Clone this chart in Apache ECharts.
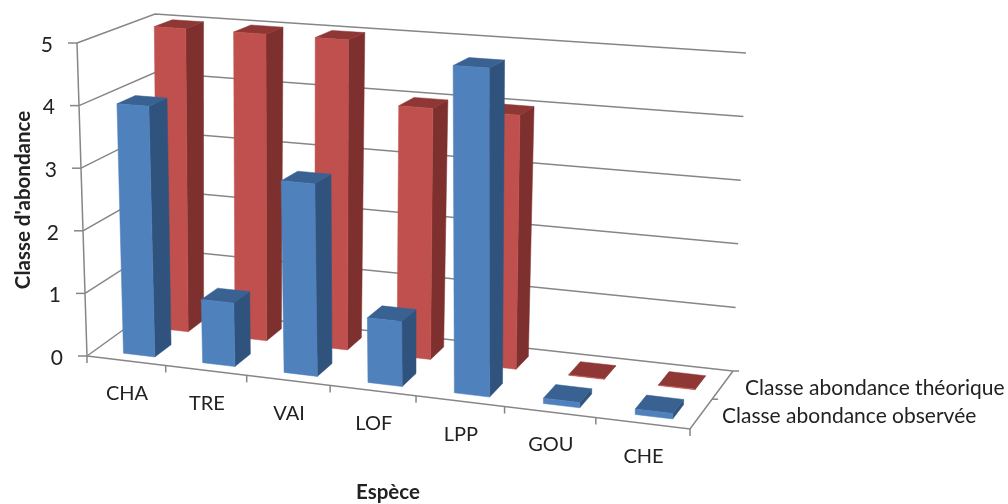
<!DOCTYPE html>
<html><head><meta charset="utf-8">
<script src="https://cdn.jsdelivr.net/npm/echarts@6/dist/echarts.min.js"></script>
<style>html,body{margin:0;padding:0;background:#fff}#c{width:1008px;height:504px}</style>
</head><body><div id="c"></div>
<script>
const categories = ['CHA','TRE','VAI','LOF','LPP','GOU','CHE'];
const observed = [4,1,3,1,5,0.08,0.08];
const theoretical = [5,5,5,4,4,0.01,0.01];
const valueTicks = [0,1,2,3,4,5];
const rowLabels = ['Classe abondance observée','Classe abondance théorique'];
const xTitle = 'Espèce';
const yTitle = "Classe d'abondance";

const W = 1008, H = 504, N = categories.length, VMAX = 5;
// perspective frame of the 3D box (unit square to picture)
const floorQuad = [[87,356],[690,429],[733,371],[155,307]];
const topQuad = [[77,43],[692.6,87.4],[746,53],[155,14]];
function homography(q){
  const [p0,p1,p2,p3]=q;
  const dx1=p1[0]-p2[0],dx2=p3[0]-p2[0],sx=p0[0]-p1[0]+p2[0]-p3[0];
  const dy1=p1[1]-p2[1],dy2=p3[1]-p2[1],sy=p0[1]-p1[1]+p2[1]-p3[1];
  const d=dx1*dy2-dx2*dy1;
  const g=(sx*dy2-dx2*sy)/d,h=(dx1*sy-sx*dy1)/d;
  const a=p1[0]-p0[0]+g*p1[0],b=p3[0]-p0[0]+h*p3[0];
  const e=p1[1]-p0[1]+g*p1[1],f=p3[1]-p0[1]+h*p3[1];
  return (u,v)=>{const w=g*u+h*v+1;return [(a*u+b*v+p0[0])/w,(e*u+f*v+p0[1])/w];};
}
const floorH=homography(floorQuad), topH=homography(topQuad);
function project(x,y,z){
  const a=floorH(x/N,z),b=topH(x/N,z),t=y/VMAX;
  return [a[0]+(b[0]-a[0])*t,a[1]+(b[1]-a[1])*t];
}
function scaled(api,i,v){
  const c=api.coord([i,v]);
  return [c[0]/W*N,(1-c[1]/H)*VMAX];
}
const GRID='#868686';
const line=(pts,w)=>({type:'polyline',shape:{points:pts},style:{stroke:GRID,lineWidth:w||1.5,fill:null}});
const txt=(s,x,y,o)=>({type:'text',x,y,rotation:(o&&o.rot)||0,style:Object.assign({text:s,fill:'#222',font:(o&&o.font)||'20px Lato',align:'center',verticalAlign:'middle'},o&&o.style)});

function renderGrid(params,api){
  const v=api.value(0);
  const [,y]=scaled(api,0,v);
  return {type:'group',silent:true,children:[
    line([project(0,y,0),project(0,y,1),project(N,y,1)]),
    line([[project(0,y,0)[0]-9,project(0,y,0)[1]],project(0,y,0)])
  ]};
}
function renderFloor(params,api){
  const ch=[
    line([project(0,0,0),project(0,VMAX,0)]),
    line([project(0,0,0),project(N,0,0),project(N,0,1)]),
    line([project(N,0,.5),[project(N,0,.5)[0]+6,project(N,0,.5)[1]]]),
    line([project(N,0,1),[project(N,0,1)[0]+6,project(N,0,1)[1]]])
  ];
  for(let i=0;i<=N;i++){const p=project(i,0,0);ch.push(line([p,[p[0],p[1]+7]]));}
  return {type:'group',silent:true,children:ch};
}
function barRenderer(z0,z1,front,side,top){
  return function(params,api){
    const i=api.value(0),v=api.value(1);
    const [xc,y]=scaled(api,i,v);
    const x0=xc-.14,x1=xc+.26;
    const poly=(pts,c)=>({type:'polygon',shape:{points:pts},style:{fill:c,stroke:c,lineWidth:.5}});
    const P=project;
    return {type:'group',children:[
      poly([P(x1,0,z0),P(x1,0,z1),P(x1,y,z1),P(x1,y,z0)],side),
      poly([P(x0,y,z0),P(x1,y,z0),P(x1,y,z1),P(x0,y,z1)],top),
      poly([P(x0,0,z0),P(x1,0,z0),P(x1,y,z0),P(x0,y,z0)],front)
    ]};
  };
}
function renderLabels(params,api){
  const ch=[];
  categories.forEach((c,i)=>{const p=project(i+.5,0,0);ch.push(txt(c,p[0]+1,p[1]+33));});
  valueTicks.forEach(v=>{const p=project(0,v,0);ch.push(txt(String(v),p[0]-24,p[1]+2,{font:'21px Lato',style:{align:'right'}}));});
  ch.push(txt(rowLabels[1],745,388,{font:'21px Lato',style:{align:'left'}}));
  ch.push(txt(rowLabels[0],722,416,{font:'21px Lato',style:{align:'left'}}));
  ch.push(txt(xTitle,388,492,{font:'bold 20.5px Lato'}));
  ch.push(txt(yTitle,23,200,{font:'bold 20.5px Lato',rot:Math.PI/2}));
  return {type:'group',silent:true,children:ch};
}
const zipped=a=>a.map((v,i)=>[i,v]);
const chart=echarts.init(document.getElementById('c'),null,{renderer:'canvas'});
chart.setOption({
  animation:false,
  backgroundColor:'#fff',
  grid:{left:0,right:0,top:0,bottom:0},
  tooltip:{show:false},
  xAxis:{type:'category',data:categories,show:false},
  yAxis:{type:'value',min:0,max:VMAX,interval:1,show:false},
  series:[
    {type:'custom',name:'grid',renderItem:renderGrid,data:valueTicks.map(v=>[v]),encode:{x:-1,y:0},clip:false,silent:true},
    {type:'custom',name:'frame',renderItem:renderFloor,data:[[0]],clip:false,silent:true},
    {type:'custom',name:rowLabels[1],renderItem:barRenderer(.62,.86,'#C0504D','#7D302E','#8E3734'),data:zipped(theoretical),encode:{x:0,y:1},clip:false},
    {type:'custom',name:rowLabels[0],renderItem:barRenderer(.12,.36,'#4F81BD','#30537D','#396292'),data:zipped(observed),encode:{x:0,y:1},clip:false},
    {type:'custom',name:'labels',renderItem:renderLabels,data:[[0]],clip:false,silent:true}
  ]
});
</script></body></html>
